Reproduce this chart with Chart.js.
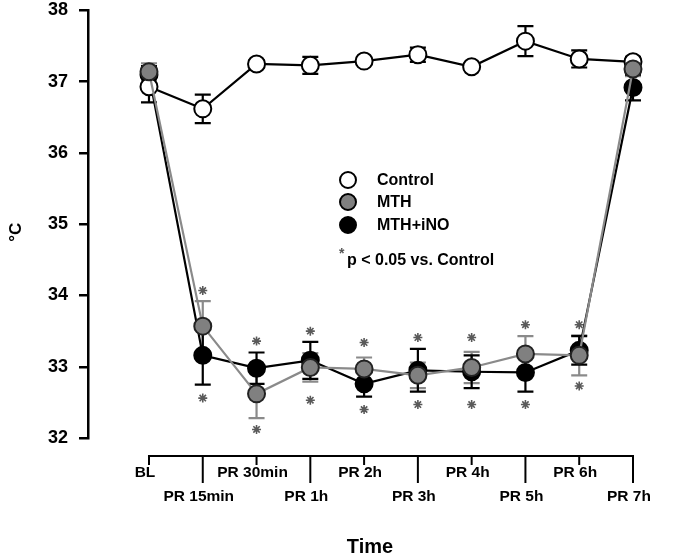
<!DOCTYPE html>
<html>
<head>
<meta charset="utf-8">
<script src="https://cdn.jsdelivr.net/npm/chart.js@4"></script>
<style>
  html, body { margin: 0; padding: 0; background: #fff; }
  #wrap { width: 685px; height: 556px; position: relative; }
</style>
</head>
<body>
<div id="wrap"><canvas id="c" width="685" height="556"></canvas></div>
<script>
const categories = ['BL', 'PR 15min', 'PR 30min', 'PR 1h', 'PR 2h', 'PR 3h', 'PR 4h', 'PR 5h', 'PR 6h', 'PR 7h'];
const controlMean = [36.93, 36.62, 37.25, 37.23, 37.29, 37.38, 37.21, 37.57, 37.32, 37.28];
const controlErr  = [0.22, 0.20, 0.05, 0.12, 0.05, 0.10, 0.04, 0.21, 0.12, 0.07];
const mthMean     = [37.14, 33.57, 32.62, 32.99, 32.97, 32.88, 32.99, 33.18, 33.16, 37.18];
const mthErr      = [0.12, 0.35, 0.34, 0.20, 0.16, 0.18, 0.22, 0.25, 0.28, 0.10];
const inoMean     = [37.10, 33.16, 32.98, 33.09, 32.76, 32.95, 32.93, 32.92, 33.23, 36.92];
const inoErr      = [0.12, 0.41, 0.22, 0.26, 0.18, 0.30, 0.23, 0.27, 0.20, 0.18];
const starTop     = [null, 34.07, 33.36, 33.50, 33.34, 33.41, 33.41, 33.59, 33.59, null];
const starBottom  = [null, 32.56, 32.12, 32.53, 32.40, 32.47, 32.47, 32.47, 32.73, null];
const yTicks = [32, 33, 34, 35, 36, 37, 38];
const legendLabels = ['Control', 'MTH', 'MTH+iNO'];
const noteText = 'p < 0.05 vs. Control';
const xTitle = 'Time';
const yTitle = '°C';

const GRAY_FILL = '#808080';
const GRAY_LINE = '#8a8a8a';
const FONT = '"Liberation Sans", Arial, Helvetica, sans-serif';

function pts(arr) { return arr.map((v, i) => (v === null ? null : { x: i, y: v })).filter(p => p); }

const errorBars = {
  id: 'errorBars',
  beforeDatasetsDraw(chart) {
    const ctx = chart.ctx, y = chart.scales.y, x = chart.scales.x;
    chart.data.datasets.forEach((ds) => {
      if (!ds.errs) return;
      ctx.save();
      ctx.strokeStyle = ds.errColor;
      ctx.lineWidth = 2.2;
      ds.means.forEach((m, i) => {
        const px = x.getPixelForValue(i);
        const top = y.getPixelForValue(m + ds.errs[i]);
        const bot = y.getPixelForValue(m - ds.errs[i]);
        ctx.beginPath();
        ctx.moveTo(px, top); ctx.lineTo(px, bot);
        ctx.moveTo(px - 8, top); ctx.lineTo(px + 8, top);
        ctx.moveTo(px - 8, bot); ctx.lineTo(px + 8, bot);
        ctx.stroke();
      });
      ctx.restore();
    });
  }
};

const customAxes = {
  id: 'customAxes',
  afterDraw(chart) {
    const ctx = chart.ctx, x = chart.scales.x, ys = chart.scales.y;
    ctx.save();
    const axisY = ys.getPixelForValue(32) + 18;
    ctx.strokeStyle = '#000';
    ctx.lineWidth = 2;
    ctx.beginPath();
    ctx.moveTo(x.getPixelForValue(0) - 1, axisY);
    ctx.lineTo(x.getPixelForValue(categories.length - 1) + 1, axisY);
    ctx.stroke();
    ctx.fillStyle = '#000';
    ctx.font = 'bold 15.5px ' + FONT;
    ctx.textAlign = 'center';
    ctx.textBaseline = 'middle';
    categories.forEach((c, i) => {
      const px = x.getPixelForValue(i);
      const long = i % 2 === 1;
      ctx.beginPath();
      ctx.moveTo(px, axisY);
      ctx.lineTo(px, axisY + (long ? 27 : 9));
      ctx.stroke();
      ctx.fillText(c, px - 4, axisY + (long ? 41 : 17));
    });
    ctx.font = 'bold 20px ' + FONT;
    ctx.fillText(xTitle, (x.getPixelForValue(0) + x.getPixelForValue(categories.length - 1)) / 2 - 21, axisY + 91);
    ctx.save();
    ctx.translate(16, (ys.top + ys.bottom) / 2 + 8);
    ctx.rotate(-Math.PI / 2);
    ctx.font = 'bold 17px ' + FONT;
    ctx.fillText(yTitle, 0, 0);
    ctx.restore();
    const lx = 348, ly = [180, 202, 225];
    const fills = ['#ffffff', GRAY_FILL, '#000000'];
    ctx.lineWidth = 2;
    ly.forEach((yy, i) => {
      ctx.beginPath();
      ctx.arc(lx, yy, 8, 0, Math.PI * 2);
      ctx.fillStyle = fills[i];
      ctx.fill();
      ctx.strokeStyle = '#000';
      ctx.stroke();
      ctx.fillStyle = '#000';
      ctx.font = 'bold 16px ' + FONT;
      ctx.textAlign = 'left';
      ctx.fillText(legendLabels[i], 377, yy + 1);
    });
    ctx.font = 'bold 14px ' + FONT;
    ctx.fillStyle = '#555';
    ctx.fillText('*', 339, 254);
    ctx.fillStyle = '#000';
    ctx.font = 'bold 16px ' + FONT;
    ctx.fillText(noteText, 347, 261);
    ctx.restore();
  }
};

new Chart(document.getElementById('c'), {
  type: 'line',
  data: {
    datasets: [
      {
        label: 'MTH', data: pts(mthMean), means: mthMean, errs: mthErr, errColor: GRAY_LINE,
        borderColor: GRAY_LINE, borderWidth: 2.2, backgroundColor: GRAY_FILL,
        pointBackgroundColor: GRAY_FILL, pointBorderColor: '#222', pointBorderWidth: 2,
        pointRadius: 8.5, pointHoverRadius: 8.5, tension: 0, clip: false
      },
      {
        label: 'Control', data: pts(controlMean), means: controlMean, errs: controlErr, errColor: '#000',
        borderColor: '#000', borderWidth: 2.2, backgroundColor: '#fff',
        pointBackgroundColor: '#fff', pointBorderColor: '#000', pointBorderWidth: 2,
        pointRadius: 8.5, pointHoverRadius: 8.5, tension: 0, clip: false
      },
      {
        label: 'MTH+iNO', data: pts(inoMean), means: inoMean, errs: inoErr, errColor: '#000',
        borderColor: '#000', borderWidth: 2.2, backgroundColor: '#000',
        pointBackgroundColor: '#000', pointBorderColor: '#000', pointBorderWidth: 2,
        pointRadius: 8.5, pointHoverRadius: 8.5, tension: 0, clip: false
      },
      {
        label: 'sigTop', data: pts(starTop), showLine: false, pointStyle: 'star',
        pointRadius: 4.5, pointBorderColor: '#5a5a5a', pointBorderWidth: 1.6, clip: false
      },
      {
        label: 'sigBottom', data: pts(starBottom), showLine: false, pointStyle: 'star',
        pointRadius: 4.5, pointBorderColor: '#5a5a5a', pointBorderWidth: 1.6, clip: false
      }
    ]
  },
  options: {
    responsive: false,
    animation: false,
    events: [],
    layout: { padding: { left: 0, top: 10, right: 30.5, bottom: 118 } },
    plugins: { legend: { display: false }, tooltip: { enabled: false } },
    scales: {
      x: { type: 'linear', display: false, min: -1.134, max: 9.4 },
      y: {
        type: 'linear', min: 32, max: 38,
        afterFit(s) { s.width = 88; s.paddingTop = 0; s.paddingBottom = 0; },
        afterBuildTicks(s) { s.ticks = yTicks.map(v => ({ value: v })); },
        border: { display: true, color: '#000', width: 2.5 },
        grid: { drawOnChartArea: false, drawTicks: true, tickLength: 9, color: '#000', lineWidth: 2.5 },
        ticks: { color: '#000', padding: 11, font: { family: FONT, size: 18, weight: 'bold' } }
      }
    }
  },
  plugins: [errorBars, customAxes]
});
</script>
</body>
</html>
